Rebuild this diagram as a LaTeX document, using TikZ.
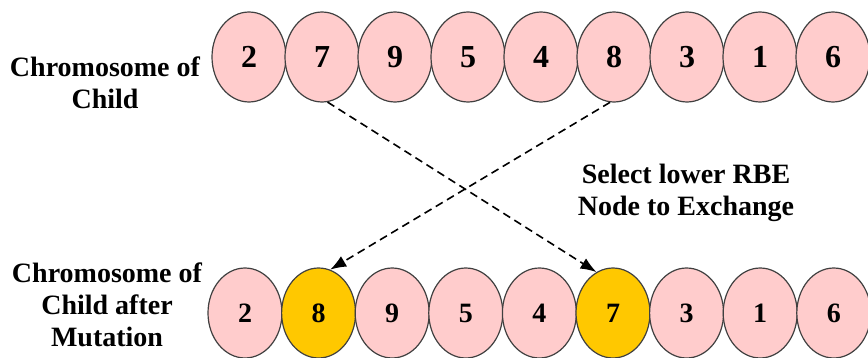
\documentclass[tikz,border=0pt]{standalone}
\usepackage{fontspec}
\setmainfont{Liberation Serif}[BoldFont={Liberation Serif Bold}]
\usetikzlibrary{shapes.geometric,arrows.meta}

\definecolor{genepink}{RGB}{255,204,204}
\definecolor{swapgold}{RGB}{255,200,0}

\begin{document}
\begin{tikzpicture}[x=0.5pt,y=-0.5pt,
    gene/.style={ellipse,draw=black!75,fill=genepink,line width=0.6pt,
      minimum width=37pt,minimum height=45pt,inner sep=0pt},
    swapped/.style={gene,fill=swapgold},
    caption/.style={align=center,font=\rmfamily\bfseries\fontsize{14}{16}\selectfont},
    swaparrow/.style={dashed,dash pattern=on 4pt off 2.5pt,line width=0.8pt,
      -{Latex[length=8pt,width=6pt]}}]

          \useasboundingbox (0,0) rectangle (868,358);

          % chromosome before mutation
          \foreach \v [count=\i] in {2,7,9,5,4,8,3,1,6}{
            \node[gene,font=\rmfamily\bfseries\fontsize{16}{16}\selectfont] (t\i) at ({249+73*(\i-1)},57) {\v};
          }

          % chromosome after mutation, genes 2 and 6 swapped
          \foreach \v/\s [count=\i] in {2/gene,8/swapped,9/gene,5/gene,4/gene,7/swapped,3/gene,1/gene,6/gene}{
            \node[\s,font=\rmfamily\bfseries\fontsize{14}{14}\selectfont] (b\i) at ({245+73.6*(\i-1)},313) {\v};
          }

          \node[caption] (toplbl) at (105,83) {Chromosome of\\Child};
          \node[caption] (botlbl) at (107,305) {Chromosome of\\Child after\\Mutation};
          \node[caption] (rbe) at (686,193) {Select lower RBE\\Node to Exchange};

          \draw[swaparrow] (t2.277) -- (b6.112);
          \draw[swaparrow] (t6.265) -- (b2.75);

        \end{tikzpicture}
\end{document}
